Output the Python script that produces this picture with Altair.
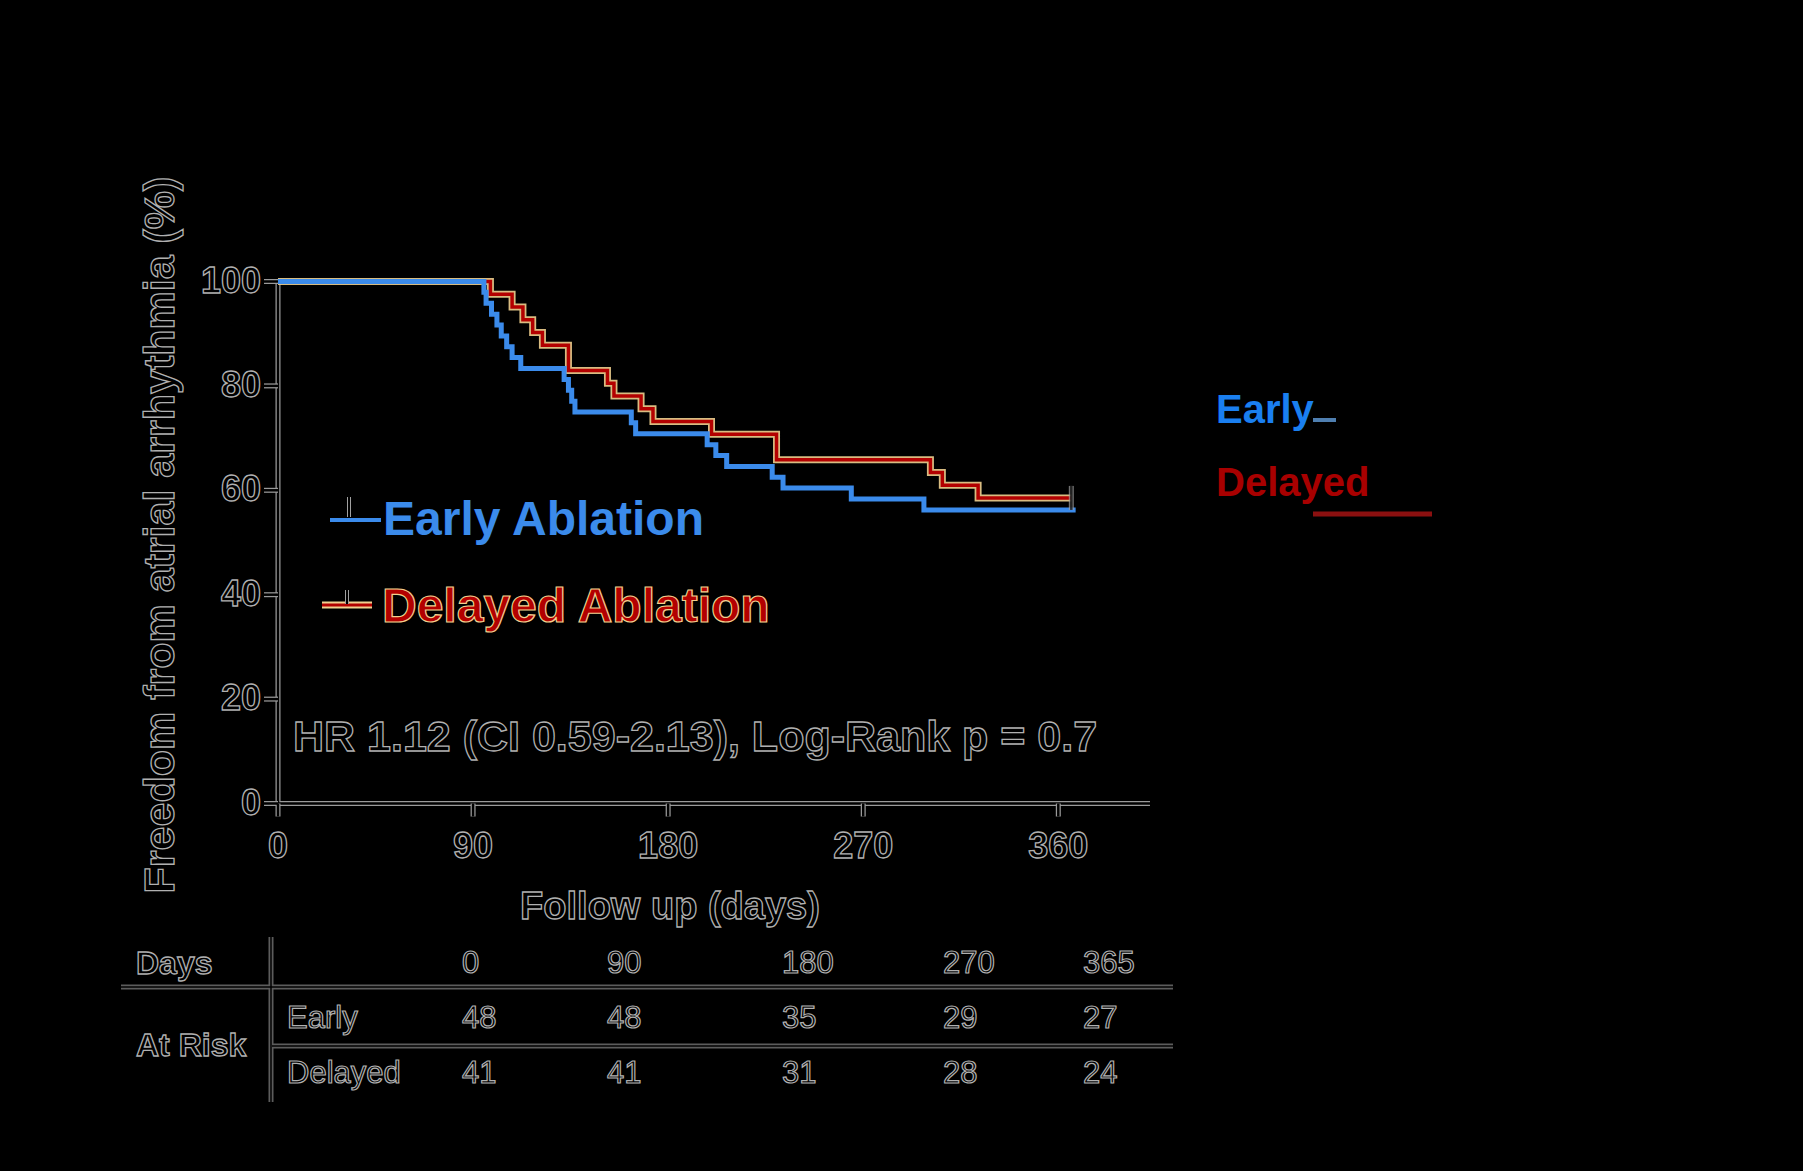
import altair as alt
import pandas as pd

# ---------------- data ----------------
early_days = [0, 95, 96, 98.5, 101, 103, 105.5, 108, 112, 132, 134, 135.5, 137, 163, 165, 198, 202, 207, 228, 233, 264.5, 298, 368]
early_surv = [100, 97.92, 95.83, 93.75, 91.67, 89.58, 87.5, 85.42, 83.33, 81.25, 79.17, 77.08, 75.0, 72.92, 70.83, 68.75, 66.67, 64.58, 62.5, 60.42, 58.33, 56.25, 56.25]

delayed_days = [0, 98, 108, 113, 117.5, 122, 134, 152, 155, 167.5, 173, 200, 230, 301, 306.5, 323, 366]
delayed_surv = [100, 97.56, 95.12, 92.68, 90.24, 87.80, 82.93, 80.49, 78.05, 75.61, 73.17, 70.73, 65.85, 63.41, 60.98, 58.54, 58.54]

censor_days = [366]
censor_surv = [58.54]

y_ticks = [0, 20, 40, 60, 80, 100]
x_ticks = [0, 90, 180, 270, 360]

table_days = [0, 90, 180, 270, 365]
table_rows = ["Days", "Early", "Delayed"]
early_at_risk = [48, 48, 35, 29, 27]
delayed_at_risk = [41, 41, 31, 28, 24]

# ---------------- layout helpers ----------------
FONT = "Liberation Sans, Arial, Helvetica, sans-serif"
W, H = 867, 522
X0, Y0 = 278, 281.5
BLUE = "#3b8beb"
RED = "#b30000"
HALO_RED = "#f0d08f"
HALO_GREY = "#b0b0b0"


def px(v):
    return v - X0


def py(v):
    return v - Y0


xs = alt.Scale(domain=[0, 400], nice=False, zero=False)
ys = alt.Scale(domain=[0, 100], nice=False, zero=False)
one = pd.DataFrame({"a": [0]})


def text(txt, x, y, size, bold=True, fill="#000000", stroke=HALO_GREY, sw=1.3,
         align="left", baseline="middle", angle=0, font=FONT):
    kw = dict(align=align, baseline=baseline, fontSize=size, font=font,
              fontWeight="bold" if bold else "normal", fill=fill)
    if stroke:
        kw.update(stroke=stroke, strokeWidth=sw)
    if angle:
        kw.update(angle=angle)
    return alt.Chart(pd.DataFrame({"t": [txt]})).mark_text(**kw).encode(
        text="t:N", x=alt.value(x), y=alt.value(y))


def prule(x1, y1, x2, y2, color, width):
    return alt.Chart(one).mark_rule(color=color, strokeWidth=width).encode(
        x=alt.value(x1), y=alt.value(y1), x2=alt.value(x2), y2=alt.value(y2))


layers = []

# ---------------- axes ----------------
axis_df = pd.DataFrame({"x": [0], "y": [0], "y2": [100]})
for col, w in [("#9a9a9a", 5), ("#000000", 2.5)]:
    layers.append(alt.Chart(axis_df).mark_rule(color=col, strokeWidth=w).encode(
        x=alt.X("x:Q", scale=xs, axis=None),
        y=alt.Y("y:Q", scale=ys, axis=None), y2="y2:Q"))
    layers.append(alt.Chart(axis_df).mark_rule(color=col, strokeWidth=w).encode(
        x=alt.X("x:Q", scale=xs, axis=None), x2=alt.value(px(1150)),
        y=alt.Y("y:Q", scale=ys, axis=None)))

ydf = pd.DataFrame({"v": y_ticks})
xdf = pd.DataFrame({"v": x_ticks})
for col, w in [("#9a9a9a", 5), ("#000000", 2.5)]:
    layers.append(alt.Chart(ydf).mark_rule(color=col, strokeWidth=w).encode(
        y=alt.Y("v:Q", scale=ys, axis=None), x=alt.value(px(264)), x2=alt.value(0)))
    layers.append(alt.Chart(xdf).mark_rule(color=col, strokeWidth=w).encode(
        x=alt.X("v:Q", scale=xs, axis=None), y=alt.value(H), y2=alt.value(H + 13)))

layers.append(alt.Chart(ydf).mark_text(
    align="right", baseline="middle", fontSize=36, font=FONT, fontWeight="bold",
    fill="#000000", stroke=HALO_GREY, strokeWidth=1.3).encode(
    y=alt.Y("v:Q", scale=ys, axis=None), x=alt.value(px(261)), text="v:Q"))
layers.append(alt.Chart(xdf).mark_text(
    align="center", baseline="middle", fontSize=36, font=FONT, fontWeight="bold",
    fill="#000000", stroke=HALO_GREY, strokeWidth=1.3).encode(
    x=alt.X("v:Q", scale=xs, axis=None), y=alt.value(py(847)), text="v:Q"))

# axis titles
layers.append(text("Freedom from atrial arrhythmia (%)", px(161), py(535), 43,
                   align="center", angle=270))
layers.append(text("Follow up (days)", px(670), py(908), 38, align="center"))

# ---------------- curves ----------------
early_df = pd.DataFrame({"day": early_days, "surv": early_surv})
delayed_df = pd.DataFrame({"day": delayed_days, "surv": delayed_surv})
cens_df = pd.DataFrame({"day": censor_days, "surv": censor_surv})

layers.append(alt.Chart(delayed_df).mark_line(
    interpolate="step-after", color=HALO_RED, strokeWidth=7, opacity=0.9).encode(
    x=alt.X("day:Q", scale=xs, axis=None), y=alt.Y("surv:Q", scale=ys, axis=None)))
layers.append(alt.Chart(delayed_df).mark_line(
    interpolate="step-after", color=RED, strokeWidth=3.5).encode(
    x=alt.X("day:Q", scale=xs, axis=None), y=alt.Y("surv:Q", scale=ys, axis=None)))
layers.append(alt.Chart(early_df).mark_line(
    interpolate="step-after", color=BLUE, strokeWidth=5).encode(
    x=alt.X("day:Q", scale=xs, axis=None), y=alt.Y("surv:Q", scale=ys, axis=None)))
for col, th in [("#a0a0a0", 5), ("#000000", 2.5)]:
    layers.append(alt.Chart(cens_df).mark_tick(
        orient="vertical", color=col, size=24, thickness=th).encode(
        x=alt.X("day:Q", scale=xs, axis=None), y=alt.Y("surv:Q", scale=ys, axis=None)))

# ---------------- annotation ----------------
layers.append(text("HR 1.12 (CI 0.59-2.13), Log-Rank p = 0.7", px(293), py(738), 43))

# ---------------- legend ----------------
layers.append(prule(px(330), py(520), px(381), py(520), BLUE, 4))
layers.append(prule(px(349), py(497), px(349), py(517), "#a0a0a0", 4))
layers.append(prule(px(349), py(497), px(349), py(517), "#000000", 2))
layers.append(text("Early Ablation", px(383), py(535), 48, fill=BLUE, stroke=None,
                   baseline="alphabetic"))

layers.append(prule(px(322), py(605), px(372), py(605), HALO_RED, 7))
layers.append(prule(px(322), py(605), px(372), py(605), RED, 3))
layers.append(prule(px(347), py(590), px(347), py(604), "#a0a0a0", 4))
layers.append(prule(px(347), py(590), px(347), py(604), "#000000", 2))
layers.append(text("Delayed Ablation", px(382), py(622), 48, fill=RED,
                   stroke=HALO_RED, sw=1.2, baseline="alphabetic"))

# right-side labels
layers.append(text("Early", px(1216), py(423), 40, fill="#1a7ff0", stroke=None,
                   baseline="alphabetic"))
layers.append(prule(px(1313), py(420), px(1336), py(420), "#4f7fb0", 4))
layers.append(text("Delayed", px(1216), py(496), 40, fill="#a80000", stroke=None,
                   baseline="alphabetic"))
layers.append(prule(px(1313), py(514), px(1432), py(514), "#8b1010", 5))

# ---------------- risk table ----------------
tab = []
for d in table_days:
    tab.append({"day": d, "row": "Days", "t": str(d)})
for d, v in zip(table_days, early_at_risk):
    tab.append({"day": d, "row": "Early", "t": str(v)})
for d, v in zip(table_days, delayed_at_risk):
    tab.append({"day": d, "row": "Delayed", "t": str(v)})
tab_df = pd.DataFrame(tab)

layers.append(alt.Chart(tab_df).mark_text(
    align="left", baseline="middle", fontSize=31, font=FONT, fontWeight="normal",
    fill="#000000", stroke=HALO_GREY, strokeWidth=1.2).encode(
    x=alt.X("day:Q", axis=None,
            scale=alt.Scale(domain=table_days,
                            range=[px(462), px(607), px(782), px(943), px(1083)])),
    y=alt.Y("row:N", axis=None,
            scale=alt.Scale(type="point", domain=table_rows,
                            range=[py(964), py(1074)], padding=0)),
    text="t:N"))

for col, w in [("#5c5c5c", 5), ("#000000", 1.5)]:
    layers.append(prule(px(121), py(987), px(1173), py(987), col, w))
    layers.append(prule(px(272), py(1046), px(1173), py(1046), col, w))
    layers.append(prule(px(271), py(937), px(271), py(1102), col, w))

layers.append(text("Days", px(136), py(964), 32))
layers.append(text("At Risk", px(136), py(1046), 32))
layers.append(text("Early", px(287), py(1019), 31, bold=False, sw=1.2))
layers.append(text("Delayed", px(287), py(1074), 31, bold=False, sw=1.2))

chart = alt.layer(*layers).resolve_scale(x="independent", y="independent").properties(
    width=W, height=H,
    autosize=alt.AutoSizeParams(type="none"),
    padding={"left": X0, "top": Y0, "right": 1803 - X0 - W, "bottom": 1171 - Y0 - H},
).configure(background="#000000").configure_view(strokeWidth=0)

chart.save("out.html", embed_options={"renderer": "svg", "actions": False})
